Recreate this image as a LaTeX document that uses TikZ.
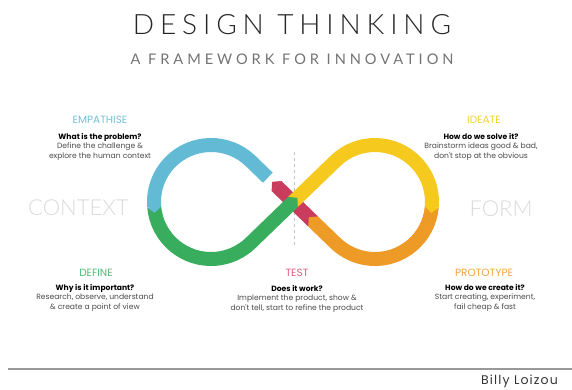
\documentclass[tikz,border=0pt]{standalone}
\usepackage{fontspec}
\usepackage{tikz}
\usetikzlibrary{calc,positioning}

\newfontfamily\titlefont{Lato Light}[LetterSpace=21]
\newfontfamily\subfont{Lato}[LetterSpace=27]
\newfontfamily\thinfont{Lato Light}
\newfontfamily\bodyfont{Poppins}
\newfontfamily\namefont{Poppins}[LetterSpace=9]

\definecolor{empblue}{HTML}{62BAD4}
\definecolor{defgreen}{HTML}{37AD5D}
\definecolor{ideyellow}{HTML}{F5C91E}
\definecolor{proorange}{HTML}{EE9A26}
\definecolor{testred}{HTML}{C93C5E}
\definecolor{textgrey}{HTML}{4A4A4A}
\definecolor{sidegrey}{HTML}{DADADA}

\tikzset{
	band/.style={line width=14pt},
	phase/.style={font=\bodyfont\fontsize{10.5}{12}\selectfont, inner sep=0pt, anchor=base},
	desc/.style={font=\bodyfont\fontsize{7.6}{9.5}\selectfont, text=textgrey, align=center, inner sep=0pt, anchor=north},
	side/.style={font=\thinfont\fontsize{22}{24}\selectfont, text=sidegrey, inner sep=0pt, anchor=base}
}

\begin{document}
\begin{tikzpicture}[x=1pt,y=1pt]
\useasboundingbox (0,0) rectangle (572,389);
\node[font=\titlefont\fontsize{28}{30}\selectfont, text=black!85, inner sep=0pt, anchor=base] (Title) at (292,354) {DESIGN THINKING};
\node[font=\subfont\fontsize{14.6}{16}\selectfont, text=black!55, inner sep=0pt, anchor=base] (Subtitle) at (292,324) {A FRAMEWORK FOR INNOVATION};

\coordinate (C) at (293,187);
\coordinate (L) at (211,187);
\coordinate (R) at (375,187);
\coordinate (DashTop) at (294,237);
\coordinate (DashBot) at (294,141);

\draw[dashed, black!25, line width=0.6pt] (DashTop) -- (DashBot);

% test
\draw[band, testred] ($(C)+(-44.04:28)$) -- ($(C)+(135.96:23)$);
\fill[testred] ($(C)+(135.96:23)+(45.96:7)$) -- ($(C)+(135.96:29)$) -- ($(C)+(135.96:23)+(225.96:7)$) -- cycle;
% prototype
\draw[band, proorange] ([shift={(-5:57)}]R) arc[start angle=-5, end angle=-134.04, radius=57] -- ($(C)+(-44.04:28)$);
\fill[proorange] ($(C)+(-44.04:28)+(45.96:7)$) -- ($(C)+(-44.04:22)$) -- ($(C)+(-44.04:28)+(225.96:7)$) -- cycle;
% ideate
\draw[band, ideyellow] (C) -- ([shift={(134.04:57)}]R) arc[start angle=134.04, end angle=-5, radius=57];
\fill[ideyellow] ($(R)+(-5:50)$) -- ($(R)+(-5:57)+(-95:6)$) -- ($(R)+(-5:64)$) -- cycle;
% define
\draw[band, defgreen] ([shift={(185:57)}]L) arc[start angle=185, end angle=314.04, radius=57] -- (C);
\fill[defgreen] ($(C)+(134.04:7)$) -- ($(C)+(44.04:6)$) -- ($(C)+(-45.96:7)$) -- cycle;
% empathise
\draw[band, empblue] ($(C)+(135.96:35)$) -- ([shift={(45.96:57)}]L) arc[start angle=45.96, end angle=185, radius=57];
\fill[empblue] ($(L)+(185:50)$) -- ($(L)+(185:57)+(275:6)$) -- ($(L)+(185:64)$) -- cycle;

\node[side] (Context) at (78.5,174) {CONTEXT};
\node[side] (Form) at (501,173) {FORM};

\node[phase, text=empblue!90] (Empathise) at (100,266) {EMPATHISE};
\node[desc] (EmpText) at (100,256) {\textbf{\color{black}What is the problem?}\\Define the challenge \&\\explore the human context};
\node[phase, text=ideyellow!90] (Ideate) at (484,266) {IDEATE};
\node[desc] (IdeText) at (481,256) {\textbf{\color{black}How do we solve it?}\\Brainstorm ideas good \& bad,\\don't stop at the obvious};
\node[phase, text=defgreen!85] (Define) at (96,113) {DEFINE};
\node[desc] (DefText) at (95,105) {\textbf{\color{black}Why is it important?}\\Research, observe, understand\\\& create a point of view};
\node[phase, text=testred!80] (Test) at (297,113) {TEST};
\node[desc] (TestText) at (297,104) {\textbf{\color{black}Does it work?}\\Implement the product, show \&\\don't tell, start to refine the product};
\node[phase, text=proorange!90] (Prototype) at (484,113) {PROTOTYPE};
\node[desc] (ProText) at (485,105) {\textbf{\color{black}How do we create it?}\\Start creating, experiment,\\fail cheap \& fast};

\coordinate (RuleL) at (8,20);
\coordinate (RuleR) at (572,20);
\draw[black!40, line width=1.3pt] (RuleL) -- (RuleR);
\node[font=\namefont\fontsize{12.5}{14}\selectfont, text=black!80, inner sep=0pt, anchor=base east] (Author) at (558,4.5) {Billy Loizou};
\end{tikzpicture}
\end{document}
